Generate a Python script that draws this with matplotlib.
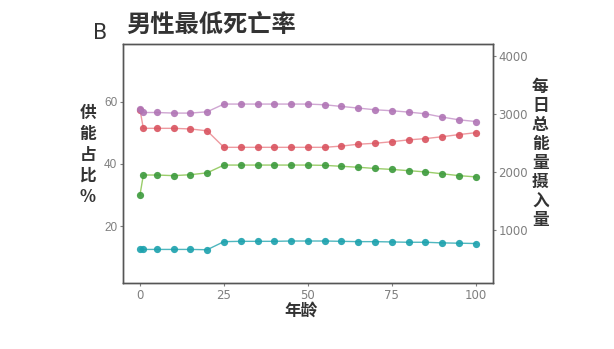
import numpy as np
import matplotlib
matplotlib.use("Agg")
import matplotlib.pyplot as plt

# age groups (years)
age = [0, 1, 5, 10, 15, 20, 25, 30, 35, 40, 45, 50, 55, 60, 65, 70, 75, 80, 85, 90, 95, 100]

# energy share, %
carb = [57.4, 51.4, 51.4, 51.4, 51.2, 50.6, 45.3, 45.3, 45.3, 45.3, 45.3, 45.3, 45.3,
        45.7, 46.3, 46.6, 47.1, 47.7, 48.1, 48.7, 49.4, 50.0]
fat = [30.0, 36.4, 36.4, 36.2, 36.5, 37.1, 39.6, 39.6, 39.6, 39.6, 39.6, 39.6, 39.5,
       39.2, 38.9, 38.5, 38.2, 37.8, 37.4, 36.8, 36.2, 35.8]
protein = [12.6, 12.5, 12.5, 12.5, 12.5, 12.4, 15.0, 15.1, 15.1, 15.1, 15.2, 15.2, 15.2,
           15.1, 15.0, 15.0, 14.9, 14.8, 14.8, 14.6, 14.5, 14.4]

# total energy intake, kcal/day
energy = [3081, 3022, 3022, 3012, 3012, 3034, 3167, 3167, 3167, 3167, 3167, 3167, 3155,
          3126, 3098, 3069, 3052, 3029, 3000, 2943, 2896, 2867]

left_ticks = [20, 40, 60]
right_ticks = [1000, 2000, 3000, 4000]
x_ticks = [0, 25, 50, 75, 100]

cjk = 'Noto Sans CJK SC'
dark = '#333333'
grey = '#7f7f7f'
scale = 53.5

fig = plt.figure(figsize=(6.14, 3.49), dpi=100)
ax = fig.add_axes([0.2003, 0.189, 0.6023, 0.685])
ax2 = ax.twinx()

def draw(a, y, c, lc):
    a.plot(age, y, color=lc, lw=1.0, zorder=2)
    a.plot(age, y, 'o', color=c, ms=5.2, mec='none', alpha=0.9, zorder=3)

draw(ax, carb, '#d9535f', '#ee9aa0')
draw(ax, fat, '#3c9a3c', '#9acd6a')
draw(ax, protein, '#1ba1ad', '#4fb7bf')
draw(ax2, energy, '#b074b5', '#cfa6d2')

ax.set_xlim(-5.06, 105.06)
ax.set_ylim(1.7, 78.5)
ax2.set_ylim(1.7 * scale, 78.5 * scale)

ax.set_xticks(x_ticks)
ax.set_yticks(left_ticks)
ax.set_yticklabels([str(t) for t in left_ticks], family='Liberation Sans')
ax2.set_yticks(right_ticks)

for a in (ax, ax2):
    for s in a.spines.values():
        s.set_color('#555555')
        s.set_linewidth(1.0)
ax.tick_params(colors=grey, labelsize=8.5, length=2.5, width=0.8, pad=1.5)
ax2.tick_params(axis='y', colors=grey, labelsize=8.5, length=2.5, width=0.8, pad=1.5)

# titles
fig.text(0.152, 0.905, 'B', fontsize=15, color=dark, ha='left', va='center')
fig.text(0.205, 0.925, '男性最低死亡率', fontsize=17.5, fontweight='bold',
         color=dark, family=cjk, ha='left', va='center')
fig.text(0.49, 0.11, '年龄', fontsize=12, fontweight='bold', color=dark,
         family=cjk, ha='center', va='center')

# vertical axis labels, one character per line
def stack(x, y_top, chars, step):
    for i, ch in enumerate(chars):
        fig.text(x, y_top - i * step, ch, fontsize=12, fontweight='bold', color=dark,
                 family=cjk, ha='center', va='center')

stack(0.143, 1 - 113 / 349, '供能占比%', 21 / 349)
stack(0.88, 1 - 87 / 349, '每日总能量摄入量', 19 / 349)

fig.savefig('out.png', dpi=100)
